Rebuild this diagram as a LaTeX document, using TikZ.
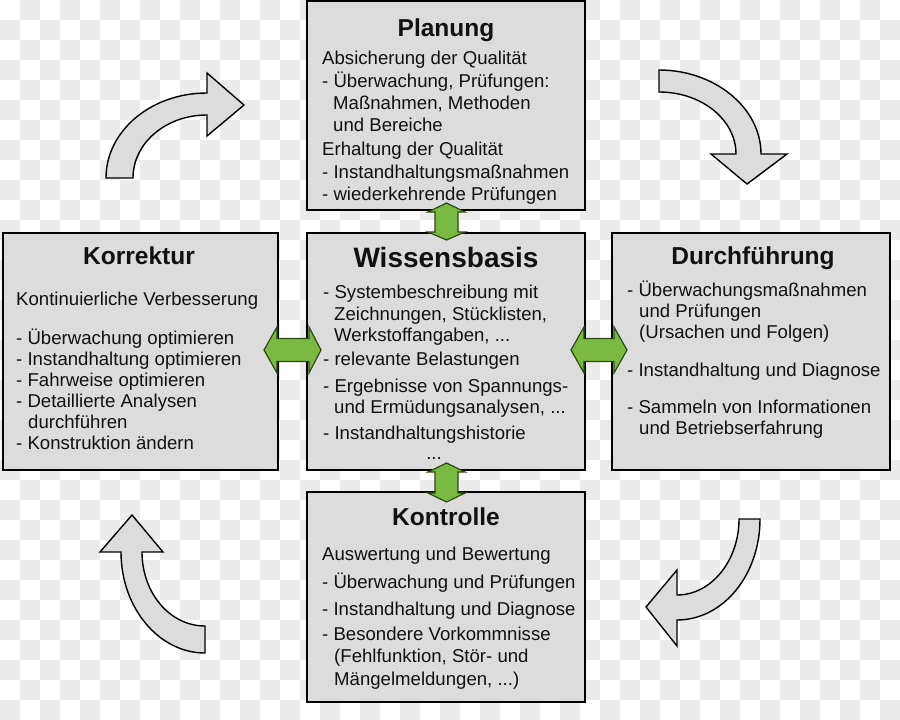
\documentclass[tikz,border=0pt]{standalone}
\usepackage{fontspec}
\setmainfont{Liberation Sans}
\definecolor{bgsqc}{HTML}{EBEBEB}
\definecolor{boxfill}{HTML}{DCDCDC}
\definecolor{grnfill}{HTML}{7AB942}
\definecolor{grnline}{HTML}{2E4A14}
\definecolor{txtc}{HTML}{111111}
\newcommand\Tline[4]{\node[txt] (#1) at (#2,#3) {#4};}
\begin{document}
\begin{tikzpicture}[x=1pt,y=-1pt,
  bgsq/.style={fill=bgsqc},
  box/.style={draw=black,line width=2pt,fill=boxfill,inner sep=0pt},
  txt/.style={anchor=base west,inner sep=0pt,text=txtc,font=\fontsize{18.6}{22}\selectfont},
  ttl/.style={anchor=base,inner sep=0pt,text=txtc,font=\fontsize{24.5}{28}\selectfont\bfseries},
  bigttl/.style={anchor=base,inner sep=0pt,text=txtc,font=\fontsize{28}{32}\selectfont\bfseries},
  grayarrow/.style={draw=black,line width=1.4pt,fill=boxfill,line join=miter},
  greenarrow/.style={draw=grnline,line width=1.2pt,fill=grnfill,line join=miter}]
\useasboundingbox (0,0) rectangle (900,720);
\fill[white] (0,0) rectangle (900,720);
\foreach \i in {0,2,...,44} \foreach \j in {1,3,...,35} \fill[bgsq] (\i*20,\j*20) rectangle ++(20,20);
\foreach \i in {1,3,...,43} \foreach \j in {0,2,...,34} \fill[bgsq] (\i*20,\j*20) rectangle ++(20,20);

% boxes
\node[box,minimum width=278pt,minimum height=209pt] (plan) at (446,105.5) {};
\node[box,minimum width=278pt,minimum height=237pt] (wiss) at (446,351.5) {};
\node[box,minimum width=275pt,minimum height=237pt] (korr) at (140.5,351.5) {};
\node[box,minimum width=278pt,minimum height=237pt] (durch) at (751,351.5) {};
\node[box,minimum width=278pt,minimum height=210pt] (kontr) at (446,597) {};

% gray curved arrows
\draw[grayarrow] (106,178) .. controls (106,131) and (151,93) .. (207,93) -- (207,73) -- (244,105) -- (207,136) -- (207,115) .. controls (166,115) and (133,143) .. (133,178) -- cycle;
\draw[grayarrow] (659,70) .. controls (715,70) and (761,108) .. (761,154) -- (787,154) -- (747,184) -- (711,154) -- (736,154) .. controls (736,120) and (702,92) .. (659,92) -- cycle;
\draw[grayarrow] (132,515) -- (163,552) -- (142,552) .. controls (142,593) and (170,626) .. (205,626) -- (205,653) .. controls (159,653) and (121,608) .. (121,552) -- (100,552) -- cycle;
\draw[grayarrow] (760,519) .. controls (760,575) and (723,620) .. (677,620) -- (677,646) -- (646,607) -- (677,570) -- (677,595) .. controls (711,595) and (739,561) .. (739,519) -- cycle;

% green double arrows
\draw[greenarrow] (446.5,203) -- (465,212) -- (458,212) -- (458,232) -- (465,232) -- (446.5,240) -- (428,232) -- (435,232) -- (435,212) -- (428,212) -- cycle;
\draw[greenarrow] (446.5,463) -- (465,472) -- (458,472) -- (458,493) -- (465,493) -- (446.5,502) -- (428,493) -- (435,493) -- (435,472) -- (428,472) -- cycle;
\draw[greenarrow] (264,350) -- (277,327) -- (277,338.5) -- (309,338.5) -- (309,327) -- (321,350) -- (309,373) -- (309,361.5) -- (277,361.5) -- (277,373) -- cycle;
\draw[greenarrow] (571,350) -- (584,327) -- (584,338.5) -- (614,338.5) -- (614,327) -- (627,350) -- (614,373) -- (614,361.5) -- (584,361.5) -- (584,373) -- cycle;

% Planung
\node[ttl] (planT) at (446,36) {Planung};
\Tline{p1}{322}{64}{Absicherung der Qualität}
\Tline{p2}{322}{87}{- Überwachung, Prüfungen:}
\Tline{p3}{333}{109}{Maßnahmen, Methoden}
\Tline{p4}{333}{131}{und Bereiche}
\Tline{p5}{322}{155}{Erhaltung der Qualität}
\Tline{p6}{322}{178}{- Instandhaltungsmaßnahmen}
\Tline{p7}{322}{200}{- wiederkehrende Prüfungen}

% Wissensbasis
\node[bigttl] (wissT) at (446,267) {Wissensbasis};
\Tline{w1}{323}{298}{- Systembeschreibung mit}
\Tline{w2}{334}{320}{Zeichnungen, Stücklisten,}
\Tline{w3}{334}{341}{Werkstoffangaben, ...}
\Tline{w4}{323}{365}{- relevante Belastungen}
\Tline{w5}{323}{392}{- Ergebnisse von Spannungs-}
\Tline{w6}{334}{413}{und Ermüdungsanalysen, ...}
\Tline{w7}{323}{439}{- Instandhaltungshistorie}
\node[txt,anchor=base] (w8) at (434,459) {...};

% Korrektur
\node[ttl] (korrT) at (139,264) {Korrektur};
\Tline{k1}{16}{305}{Kontinuierliche Verbesserung}
\Tline{k2}{16}{344}{- Überwachung optimieren}
\Tline{k3}{16}{365}{- Instandhaltung optimieren}
\Tline{k4}{16}{386}{- Fahrweise optimieren}
\Tline{k5}{16}{407}{- Detaillierte Analysen}
\Tline{k6}{28}{428}{durchführen}
\Tline{k7}{16}{449}{- Konstruktion ändern}

% Durchfuehrung
\node[ttl] (durchT) at (753,264) {Durchführung};
\Tline{d1}{627}{296}{- Überwachungsmaßnahmen}
\Tline{d2}{639}{317}{und Prüfungen}
\Tline{d3}{639}{338}{(Ursachen und Folgen)}
\Tline{d4}{627}{376}{- Instandhaltung und Diagnose}
\Tline{d5}{627}{413}{- Sammeln von Informationen}
\Tline{d6}{639}{434}{und Betriebserfahrung}

% Kontrolle
\node[ttl] (kontrT) at (446,525) {Kontrolle};
\Tline{c1}{322}{560}{Auswertung und Bewertung}
\Tline{c2}{322}{588}{- Überwachung und Prüfungen}
\Tline{c3}{322}{615}{- Instandhaltung und Diagnose}
\Tline{c4}{322}{640}{- Besondere Vorkommnisse}
\Tline{c5}{334}{662}{(Fehlfunktion, Stör- und}
\Tline{c6}{334}{685}{Mängelmeldungen, ...)}
\end{tikzpicture}
\end{document}
